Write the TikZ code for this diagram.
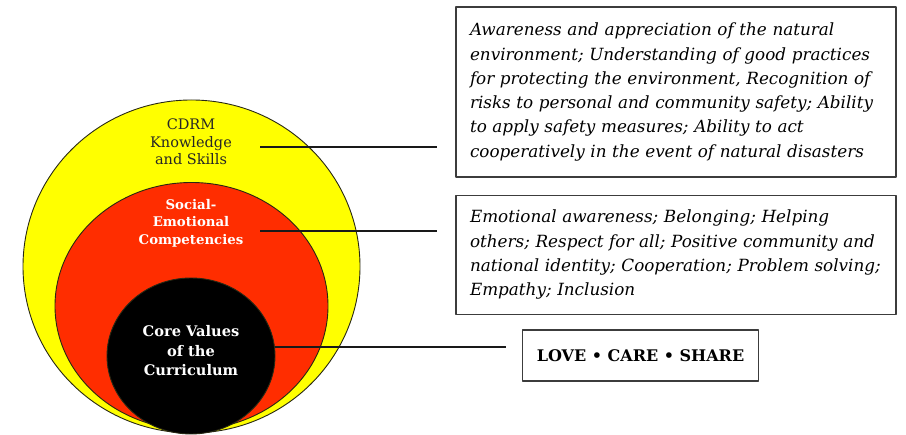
\documentclass[tikz,border=0pt]{standalone}
\usepackage{fontspec}
\setmainfont{DejaVu Serif}
\usetikzlibrary{positioning}

\begin{document}
\begin{tikzpicture}[x=1pt, y=-1pt, line join=round,
	ring/.style={draw=ringline, line width=0.9pt},
	ringtext/.style={align=center, inner sep=0pt, font=\fontsize{14.5}{17.5}\selectfont},
	infobox/.style={draw=boxline, line width=1.3pt, fill=white, inner xsep=14pt, inner ysep=0pt,
		align=left, font=\itshape\fontsize{16.8}{24.3}\selectfont},
	link/.style={draw=linkc, line width=1.5pt}]
	\definecolor{ringyellow}{RGB}{255,255,0}
	\definecolor{ringred}{RGB}{255,45,0}
	\definecolor{ringline}{RGB}{40,40,20}
	\definecolor{boxline}{RGB}{60,60,60}
	\definecolor{linkc}{RGB}{25,25,25}
	\useasboundingbox (0,0) rectangle (906,435);
	
	% 三个嵌套的圆（底部相切）
	\filldraw[ring, fill=ringyellow] (191.5,266.5) ellipse [x radius=168.5, y radius=166.5];
	\filldraw[ring, fill=ringred] (191.5,306) ellipse [x radius=136.5, y radius=123.5];
	\filldraw[ring, fill=black] (191,356) ellipse [x radius=84, y radius=78];
	
	% 圆内的文字
	\node[ringtext, text=black!85] (cdrm) at (191,142) {CDRM\\Knowledge\\and Skills};
	\node[ringtext, text=white, font=\bfseries\fontsize{13.3}{17.5}\selectfont] (social) at (191,223)
		{Social-\\Emotional\\Competencies};
	\node[ringtext, text=white, font=\bfseries\fontsize{14.6}{19.5}\selectfont] (core) at (191,351)
		{Core Values\\of the\\Curriculum};
	
	% 右侧的说明框
	\node[infobox, text width=412pt, minimum height=170pt] (knowbox) at (676,92)
		{Awareness and appreciation of the natural\\
		environment; Understanding of good practices\\
		for protecting the environment, Recognition of\\
		risks to personal and community safety; Ability\\
		to apply safety measures; Ability to act\\
		cooperatively in the event of natural disasters};
	\node[infobox, text width=412pt, minimum height=119pt, below=17pt of knowbox] (sebox)
		{Emotional awareness; Belonging; Helping\\
		others; Respect for all; Positive community and\\
		national identity; Cooperation; Problem solving;\\
		Empathy; Inclusion};
	\node[infobox, font=\bfseries\fontsize{16}{18}\selectfont, minimum width=235pt, minimum height=51pt,
		align=center] (lovebox) at (640.5,355.5) {LOVE • CARE • SHARE};
	
	% 连接线
	\coordinate (kstart) at (260,147);
	\coordinate (sstart) at (260,231);
	\coordinate (cstart) at (275,347);
	\draw[link, shorten >=18pt] (kstart) -- (kstart -| knowbox.west);
	\draw[link, shorten >=18pt] (sstart) -- (sstart -| sebox.west);
	\draw[link, shorten >=16pt] (cstart) -- (cstart -| lovebox.west);
\end{tikzpicture}
\end{document}
